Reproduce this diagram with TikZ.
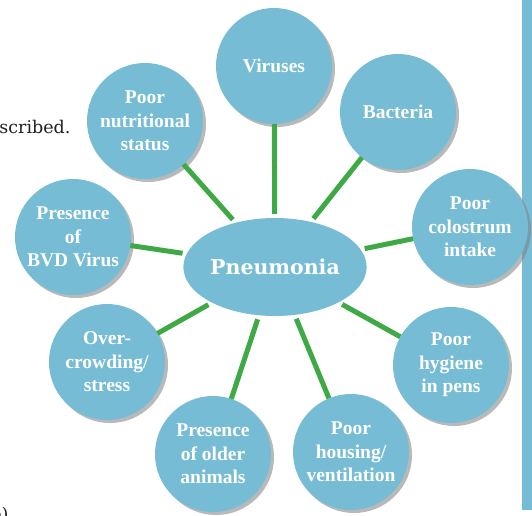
\documentclass[tikz,border=0pt]{standalone}
\usepackage{fontspec}
\setmainfont{Liberation Serif}
\newfontfamily\slabfont{DejaVu Serif}
\usetikzlibrary{shapes.geometric,shadows}
\definecolor{sky}{HTML}{76BCD5}
\definecolor{leaf}{HTML}{3FAA45}
\definecolor{pagetext}{HTML}{231F20}

\begin{document}
\begin{tikzpicture}[x=1pt,y=-1pt,every node/.style={font=\fontsize{19.5}{23.5}\selectfont\bfseries,align=center,text=white},cause/.style={circle,fill=sky,minimum size=116pt,inner sep=0pt,outer sep=0pt,drop shadow={shadow xshift=3pt,shadow yshift=-3pt,fill=black!50,opacity=.55}},hub/.style={ellipse,fill=sky,minimum width=180pt,minimum height=98pt,inner sep=0pt,font=\slabfont\fontsize{20.5}{24}\selectfont\bfseries},link/.style={draw=leaf,line width=5pt,shorten <=4pt}]
\useasboundingbox (0,0) rectangle (532,515);
\fill[sky] (522,0) rectangle (532,510);
\node[font=\slabfont\fontsize{17.5}{20}\selectfont,text=pagetext,anchor=base east] (prev) at (74,133) {scribed.};
\node[font=\slabfont\fontsize{17.5}{20}\selectfont,text=pagetext,anchor=base east] (tail) at (12,520) {e)};
\node[hub] (pn) at (275,267) {Pneumonia};
\node[cause] (vir) at (274,66) {Viruses};
\node[cause] (bac) at (398,112) {Bacteria};
\node[cause] (col) at (470,227) {Poor\\colostrum\\intake};
\node[cause] (hyg) at (451,365) {Poor\\hygiene\\in pens};
\node[cause] (hou) at (351,452) {Poor\\housing/\\ventilation};
\node[cause] (old) at (213,454) {Presence\\of older\\animals};
\node[cause] (ovc) at (107,362) {Over-\\crowding/\\stress};
\node[cause] (bvd) at (73,237) {Presence\\of\\BVD Virus};
\node[cause] (nut) at (145,121) {Poor\\nutritional\\status};
\draw[link] (pn)--(vir);\draw[link] (pn)--(bac);\draw[link] (pn)--(col);
\draw[link] (pn)--(hyg);\draw[link] (pn)--(hou);\draw[link] (pn)--(old);
\draw[link] (pn)--(ovc);\draw[link] (pn)--(bvd);\draw[link] (pn)--(nut);
\end{tikzpicture}
\end{document}
